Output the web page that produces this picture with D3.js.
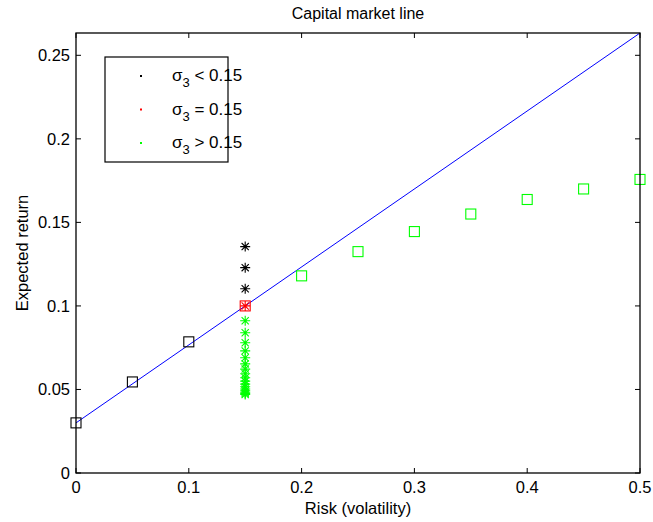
<!DOCTYPE html>
<html>
<head>
<meta charset="utf-8">
<script src="https://cdn.jsdelivr.net/npm/d3@7"></script>
<style>
  html, body { margin: 0; padding: 0; background: #fff; }
  svg { display: block; font-family: "Liberation Sans", Arial, Helvetica, sans-serif; }
</style>
</head>
<body>
<svg id="chart" width="653" height="522"></svg>
<script>
// Risk-free rate and slope of the capital market line
const riskFree = 0.03;
const sharpe = 0.4667;

// Portfolios on the line (lending side)
const lendRisk = [0, 0.05, 0.1];
const lendReturn = [0.03, 0.0545, 0.0785];

// Efficient portfolios beyond the tangency
const frontRisk = [0.2, 0.25, 0.3, 0.35, 0.4, 0.45, 0.5];
const frontReturn = [0.118, 0.1325, 0.1445, 0.155, 0.1637, 0.170, 0.1757];

// Tangency portfolio
const tangentRisk = 0.15;
const tangentReturn = 0.1;

// Portfolios at sigma = 0.15 for varying sigma_3
const lowSigmaReturn = [0.1355, 0.1229, 0.1103];
const highSigmaReturn = [0.0911, 0.0839, 0.078, 0.0731, 0.069, 0.0653, 0.0622,
  0.0594, 0.057, 0.055, 0.0532, 0.0516, 0.0503, 0.0492, 0.0483, 0.0476, 0.047];

const xTicks = [0, 0.1, 0.2, 0.3, 0.4, 0.5];
const yTicks = [0, 0.05, 0.1, 0.15, 0.2, 0.25];
const legendLabels = [
  { sym: "σ", sub: "3", rest: " < 0.15", color: "#000000" },
  { sym: "σ", sub: "3", rest: " = 0.15", color: "#ff0000" },
  { sym: "σ", sub: "3", rest: " > 0.15", color: "#00ff00" }
];

const svg = d3.select("#chart");
const plotLeft = 76, plotRight = 640, plotTop = 33, plotBottom = 473;
const xMax = 0.5;
const yMax = riskFree + sharpe * xMax;

const x = d3.scaleLinear().domain([0, xMax]).range([plotLeft, plotRight]);
const y = d3.scaleLinear().domain([0, yMax]).range([plotBottom, plotTop]);

// Capital market line
svg.append("line")
  .attr("x1", x(0)).attr("y1", y(riskFree))
  .attr("x2", x(xMax)).attr("y2", y(riskFree + sharpe * xMax))
  .attr("stroke", "#0000ff").attr("stroke-width", 1);

// square marker helper
function squares(data, color) {
  svg.append("g").selectAll("rect").data(data).join("rect")
    .attr("x", d => x(d[0]) - 5).attr("y", d => y(d[1]) - 5)
    .attr("width", 10).attr("height", 10)
    .attr("fill", "none").attr("stroke", color).attr("stroke-width", 1.1);
}
// star marker helper (plus + cross)
function stars(data, color) {
  const r = 5, q = r * 0.72;
  const path = d => {
    const cx = x(d[0]), cy = y(d[1]);
    return `M${cx - r},${cy}H${cx + r}M${cx},${cy - r}V${cy + r}` +
      `M${cx - q},${cy - q}L${cx + q},${cy + q}M${cx - q},${cy + q}L${cx + q},${cy - q}`;
  };
  svg.append("g").selectAll("path").data(data).join("path")
    .attr("d", path).attr("fill", "none").attr("stroke", color).attr("stroke-width", 1.1);
}

squares(lendRisk.map((r, i) => [r, lendReturn[i]]), "#000000");
squares(frontRisk.map((r, i) => [r, frontReturn[i]]), "#00ff00");
stars(lowSigmaReturn.map(v => [tangentRisk, v]), "#000000");
stars(highSigmaReturn.map(v => [tangentRisk, v]), "#00ff00");
squares([[tangentRisk, tangentReturn]], "#ff0000");
stars([[tangentRisk, tangentReturn]], "#ff0000");

// Axes box
svg.append("rect")
  .attr("x", plotLeft).attr("y", plotTop).attr("width", plotRight - plotLeft).attr("height", plotBottom - plotTop)
  .attr("fill", "none").attr("stroke", "#000").attr("stroke-width", 1.3);

const tickLen = 5;
const axisFont = 16.5;
// x ticks (bottom and top, pointing inward)
const xt = svg.append("g");
xTicks.forEach(t => {
  xt.append("line").attr("x1", x(t)).attr("x2", x(t)).attr("y1", plotBottom).attr("y2", plotBottom - tickLen).attr("stroke", "#000");
  xt.append("line").attr("x1", x(t)).attr("x2", x(t)).attr("y1", plotTop).attr("y2", plotTop + tickLen).attr("stroke", "#000");
  xt.append("text").attr("x", x(t)).attr("y", plotBottom + 20).attr("text-anchor", "middle")
    .attr("font-size", axisFont).text(d3.format("")(t));
});
// y ticks (left and right, pointing inward)
const yt = svg.append("g");
yTicks.forEach(t => {
  yt.append("line").attr("x1", plotLeft).attr("x2", plotLeft + tickLen).attr("y1", y(t)).attr("y2", y(t)).attr("stroke", "#000");
  yt.append("line").attr("x1", plotRight).attr("x2", plotRight - tickLen).attr("y1", y(t)).attr("y2", y(t)).attr("stroke", "#000");
  yt.append("text").attr("x", plotLeft - 6).attr("y", y(t)).attr("dy", "0.36em").attr("text-anchor", "end")
    .attr("font-size", axisFont).text(d3.format("")(t));
});

// Title and axis labels
svg.append("text").attr("x", (plotLeft + plotRight) / 2).attr("y", 19).attr("text-anchor", "middle")
  .attr("font-size", 16).text("Capital market line");
svg.append("text").attr("x", (plotLeft + plotRight) / 2).attr("y", 514).attr("text-anchor", "middle")
  .attr("font-size", 16.5).text("Risk (volatility)");
svg.append("text").attr("transform", `translate(28,${(plotTop + plotBottom) / 2}) rotate(-90)`)
  .attr("text-anchor", "middle").attr("font-size", 16.5).text("Expected return");

// Legend
const lg = svg.append("g");
lg.append("rect").attr("x", 105).attr("y", 57).attr("width", 123).attr("height", 105)
  .attr("fill", "#fff").attr("stroke", "#000").attr("stroke-width", 1.2);
legendLabels.forEach((d, i) => {
  const cy = 76 + i * 33.5;
  lg.append("rect").attr("x", 140).attr("y", cy - 1).attr("width", 2).attr("height", 2).attr("fill", d.color);
  const t = lg.append("text").attr("x", 172).attr("y", cy + 5).attr("font-size", 17);
  t.append("tspan").text(d.sym);
  t.append("tspan").attr("font-size", 13).attr("dy", 6).text(d.sub);
  t.append("tspan").attr("dy", -6).text(d.rest);
});
</script>
</body>
</html>
